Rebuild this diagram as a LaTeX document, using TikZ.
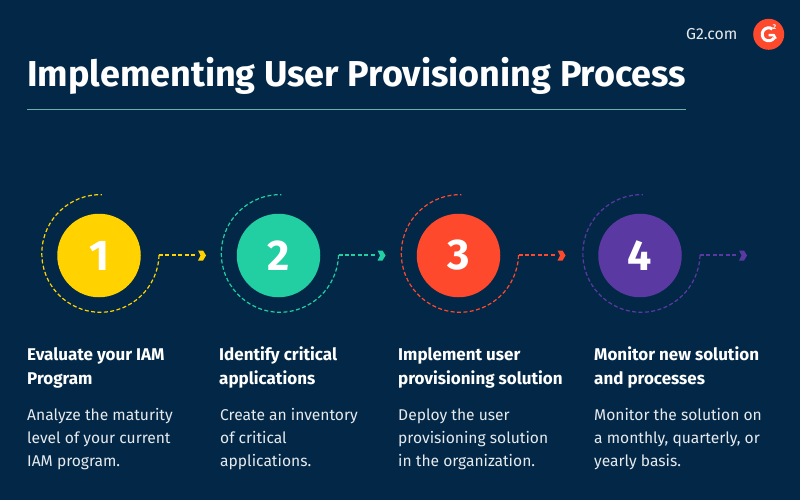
\documentclass[tikz,border=0pt]{standalone}
\usepackage{fontspec}
\setmainfont{Fira Sans}
\definecolor{bgc}{HTML}{032847}
\definecolor{cone}{HTML}{FFD200}
\definecolor{ctwo}{HTML}{22CFA3}
\definecolor{cthree}{HTML}{FF492C}
\definecolor{cfour}{HTML}{5A39A2}
\newcommand{\firststrut}[1]{\rule{0pt}{#1pt}}
\tikzset{
  x=1pt,y=-1pt,
  numdisc/.style={circle,fill=#1,minimum size=83.5pt,inner sep=0pt,text=white,font=\fontsize{43}{43}\selectfont\bfseries},
  orbit/.style={draw=#1,line width=1.2pt,dash pattern=on 4pt off 2.4pt},
  tip/.style={fill=#1,draw=none},
  head/.style={anchor=north west,inner sep=0pt,text=white,align=left,font=\fontsize{17}{24}\selectfont\bfseries},
  body/.style={anchor=north west,inner sep=0pt,text=white!90!bgc,align=left,font=\fontsize{15.6}{23}\selectfont},
}
\newcommand{\stepitem}[3]{%
  \node[numdisc=#3] (d#1) at (#2,255.5) {#1};
  \coordinate (s#1) at (#2+60,255);
  \coordinate (e#1) at (#2+97,255);
  \draw[orbit=#3] (s#1) arc[start angle=1.5,delta angle=270,x radius=58.6,y radius=58.8];
  \draw[orbit=#3] (s#1) -- (e#1);
  \fill[tip=#3] (#2+99,250.5) -- (#2+104,250.5) -- (#2+107,255.5) -- (#2+104,260.5) -- (#2+99,260.5) -- (#2+101.5,255.5) -- cycle;
}
\begin{document}
\begin{tikzpicture}
\useasboundingbox (0,0) rectangle (800,500);
\fill[bgc] (0,0) rectangle (800,500);
\node[anchor=west,inner sep=0pt,text=white,font=\fontsize{36}{40}\selectfont\bfseries] (title) at (27,75.5) {Implementing User Provisioning Process};
\coordinate (ruleL) at (27,109);
\coordinate (ruleR) at (686,109);
\draw[color=ctwo!45!white!70!bgc,line width=0.8pt] (ruleL) -- (ruleR);
\node[anchor=west,inner sep=0pt,text=white!90!bgc,font=\fontsize{15.8}{16}\selectfont] (site) at (686,34.5) {G2.com};
\node[circle,fill=cthree,minimum size=31pt,inner sep=0pt] (logo) at (768.7,34.3) {};
\draw[white,line width=3pt] (logo.center) ++(3.7,-5.3) arc[start angle=-55,delta angle=-270,x radius=6.5,y radius=6.5];
\draw[white,line width=2.4pt] (logo.center) ++(0,0.8) -- ++(5,0) -- ++(2,3.6);
\node[text=white,inner sep=0pt,font=\fontsize{7}{7}\selectfont\bfseries] (sup) at (774.5,27) {2};
\stepitem{1}{99}{cone}
\stepitem{2}{278.5}{ctwo}
\stepitem{3}{458.5}{cthree}
\stepitem{4}{640}{cfour}
\node[head] (h1) at (27,344) {\firststrut{16}Evaluate your IAM\\Program};
\node[head] (h2) at (219,344) {\firststrut{16}Identify critical\\applications};
\node[head] (h3) at (398,344) {\firststrut{16}Implement user\\provisioning solution};
\node[head] (h4) at (594,344) {\firststrut{16}Monitor new solution\\and processes};
\node[body] (b1) at (27,404.5) {\firststrut{16}Analyze the maturity\\level of your current\\IAM program.};
\node[body] (b2) at (220,404.5) {\firststrut{16}Create an inventory\\of critical\\applications.};
\node[body] (b3) at (398,404.5) {\firststrut{16}Deploy the user\\provisioning solution\\in the organization.};
\node[body] (b4) at (594,404.5) {\firststrut{16}Monitor the solution on\\a monthly, quarterly, or\\yearly basis.};
\end{tikzpicture}
\end{document}
